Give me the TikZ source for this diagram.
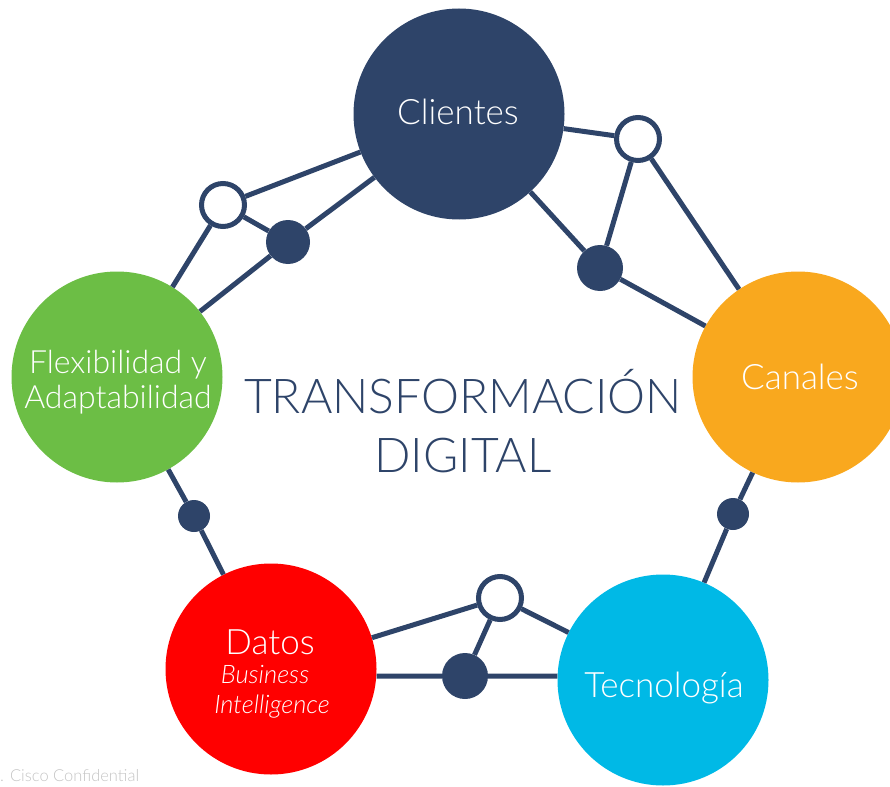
\documentclass[tikz,border=0pt]{standalone}
\usepackage{fontspec}
\setmainfont{Lato}[UprightFont=* Light, ItalicFont=* Light Italic]
\definecolor{navy}{HTML}{2E4469}
\definecolor{canalorange}{HTML}{F9A81E}
\definecolor{flexgreen}{HTML}{6CBE45}
\definecolor{datosred}{HTML}{FF0000}
\definecolor{tecblue}{HTML}{00B9E6}
\definecolor{confgray}{HTML}{C4C4C4}
\begin{document}
\begin{tikzpicture}[x=1pt,y=-1pt,
    hub/.style={circle,inner sep=0pt,minimum size=211pt},
    hubtext/.style={anchor=base,inner sep=0pt,text=white,
      font=\fontsize{35}{40}\selectfont},
    bitext/.style={anchor=base,inner sep=0pt,text=white,
      font=\fontsize{25.5}{30}\itshape},
    joint/.style={circle,inner sep=0pt,fill=navy,minimum size=46pt},
    openjoint/.style={circle,inner sep=0pt,draw=navy,line width=5pt,
      fill=white,minimum size=43pt},
    link/.style={draw=navy,line width=5pt}]
  \useasboundingbox (0,0) rectangle (890,786);
  % The five big circles round the middle.
  \node[hub,fill=navy] (clientes) at (459,114) {};
  \node[hub,fill=canalorange] (canales) at (798,377) {};
  \node[hub,fill=tecblue] (tecno) at (663,680) {};
  \node[hub,fill=datosred] (datos) at (271,669) {};
  \node[hub,fill=flexgreen] (flex) at (117,377) {};
  % Their labels, placed on the baselines.
  \node[hubtext] (clientes-lbl) at (458,125) {Clientes};
  \node[hubtext] (canales-lbl) at (800,389) {Canales};
  \node[hubtext] (tecno-lbl) at (664,697) {Tecnología};
  \node[hubtext,font=\fontsize{32}{36}\selectfont] (flex-lbl1) at (118,373) {Flexibilidad y};
  \node[hubtext,font=\fontsize{32}{36}\selectfont] (flex-lbl2) at (118,408) {Adaptabilidad};
  \node[hubtext] (datos-lbl) at (270,654) {Datos};
  \node[bitext] (bi-lbl1) at (265,683) {Business};
  \node[bitext] (bi-lbl2) at (272,713) {Intelligence};
  % The small joints between them.
  \node[openjoint] (o1) at (638,139) {};
  \node[joint] (f1) at (600,268) {};
  \node[openjoint] (o2) at (223,205) {};
  \node[joint,minimum size=44pt] (f2) at (288,242) {};
  \node[joint,minimum size=32pt] (f3) at (194,516) {};
  \node[joint,minimum size=32pt] (f4) at (733,514) {};
  \node[openjoint] (o3) at (500,598) {};
  \node[joint] (f5) at (465,676) {};
  % Draw the links.
  \path[link] (clientes) -- (o1) (o1) -- (canales) (o1) -- (f1)
    (clientes) -- (f1) (f1) -- (canales);
  \path[link] (clientes) -- (o2) (o2) -- (flex) (o2) -- (f2)
    (clientes) -- (f2) (f2) -- (flex);
  \path[link] (flex) -- (f3) (f3) -- (datos);
  \path[link] (canales) -- (f4) (f4) -- (tecno);
  \path[link] (datos) -- (o3) (o3) -- (tecno) (o3) -- (f5)
    (f5 -| datos.east) -- (f5) -- (f5 -| tecno.west);
  % Title in the middle and the footer.
  \node[anchor=base,inner sep=0pt,text=navy,font=\fontsize{48}{59}\selectfont]
    (title1) at (463,413) {TRANSFORMACIÓN};
  \node[anchor=base,inner sep=0pt,text=navy,font=\fontsize{48}{59}\selectfont]
    (title2) at (463,472) {DIGITAL};
  \node[anchor=base west,inner sep=0pt,text=confgray,font=\fontsize{16.5}{20}\selectfont]
    (conf) at (0,781) {. Cisco Confidential};
\end{tikzpicture}
\end{document}
